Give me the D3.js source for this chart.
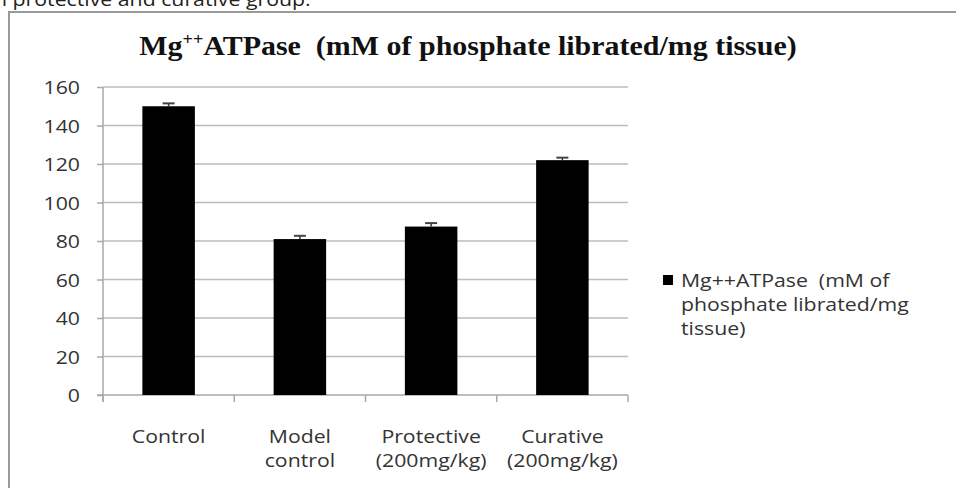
<!DOCTYPE html>
<html>
<head>
<meta charset="utf-8">
<script src="https://cdn.jsdelivr.net/npm/d3@7"></script>
<style>
  body { margin: 0; background: #fff; }
  svg { display: block; }
</style>
</head>
<body>
<div id="chart"></div>
<script>
// datos
const categorias = [['Control'], ['Model', 'control'], ['Protective', '(200mg/kg)'], ['Curative', '(200mg/kg)']]
const valores = [150, 81, 87.5, 122]
const errores = [1.5, 1.7, 1.8, 1.3]
const ticksY = [0, 20, 40, 60, 80, 100, 120, 140, 160]
const leyenda = ['Mg++ATPase\u00a0\u00a0(mM of', 'phosphate librated/mg', 'tissue)']

const width = 956
const height = 488
const sans = '"Open Sans", "Liberation Sans", sans-serif'
const estirar = 1.12 // el texto del original esta ensanchado
const tam = 19

let svg = d3.select('#chart')
    .append('svg')
    .attr('width', width)
    .attr('height', height)

// texto cortado del documento original
svg.append('text')
    .attr('transform', `translate(-6,6) scale(${estirar},1)`)
    .attr('font-family', sans)
    .attr('font-size', tam)
    .attr('fill', '#222')
    .text('n protective and curative group.')

// marco del grafico
svg.append('path')
    .attr('d', `M9 ${height} L9 12 L${width} 12`)
    .attr('fill', 'none')
    .attr('stroke', '#9a9a9a')
    .attr('stroke-width', 2)

const x = d3.scaleBand()
    .domain(d3.range(categorias.length))
    .range([103, 628])
    .paddingInner(0.6)
    .paddingOuter(0.3)

const xTicks = d3.scaleBand()
    .domain(d3.range(categorias.length))
    .range([103, 628])

const y = d3.scaleLinear()
    .domain([0, 160])
    .range([395, 87])

// lineas de cuadricula
svg.append('g')
    .selectAll('line')
    .data(ticksY.slice(1))
    .join('line')
    .attr('x1', 103)
    .attr('x2', 628)
    .attr('y1', (d) => y(d))
    .attr('y2', (d) => y(d))
    .attr('stroke', '#bdbdbd')
    .attr('stroke-width', 1.5)

// eje Y
let ejeY = svg.append('g')
    .attr('transform', 'translate(103,0)')
    .call(d3.axisLeft(y).tickValues(ticksY).tickSize(6).tickFormat(''))

ejeY.select('.domain').attr('stroke', '#a8a8a8').attr('stroke-width', 1.5)
    .attr('d', `M0 ${y(160)} L0 ${y(0) + 7}`)
ejeY.selectAll('.tick line').attr('stroke', '#a8a8a8').attr('stroke-width', 1.5)

svg.append('g')
    .selectAll('text')
    .data(ticksY)
    .join('text')
    .attr('transform', (d) => `translate(80,${y(d) + 7}) scale(${estirar},1)`)
    .attr('text-anchor', 'end')
    .attr('font-family', sans)
    .attr('font-size', tam)
    .attr('fill', '#333')
    .text((d) => d)

// eje X
let ejeX = svg.append('g')
    .attr('transform', `translate(0,${y(0)})`)

ejeX.append('line')
    .attr('x1', 97)
    .attr('x2', 628)
    .attr('stroke', '#a8a8a8')
    .attr('stroke-width', 1.5)

ejeX.selectAll('.tk')
    .data(d3.range(categorias.length + 1))
    .join('line')
    .attr('class', 'tk')
    .attr('x1', (d) => d < categorias.length ? xTicks(d) : xTicks.range()[1])
    .attr('x2', (d) => d < categorias.length ? xTicks(d) : xTicks.range()[1])
    .attr('y1', 0)
    .attr('y2', 7)
    .attr('stroke', '#a8a8a8')
    .attr('stroke-width', 1.5)

let etiquetas = ejeX.selectAll('text')
    .data(categorias)
    .join('text')
    .attr('transform', (d, i) => `translate(${xTicks(i) + xTicks.bandwidth() / 2},0) scale(${estirar},1)`)
    .attr('font-family', sans)
    .attr('font-size', tam)
    .attr('fill', '#333')
    .attr('text-anchor', 'middle')

etiquetas.selectAll('tspan')
    .data((d) => d)
    .join('tspan')
    .attr('x', 0)
    .attr('y', (d, j) => 48 + j * 24)
    .text((d) => d)

// barras
svg.append('g')
    .selectAll('rect')
    .data(valores)
    .join('rect')
    .attr('x', (d, i) => x(i))
    .attr('y', (d) => y(d))
    .attr('width', x.bandwidth())
    .attr('height', (d) => y(0) - y(d))
    .attr('fill', '#000')

// barras de error
let errorG = svg.append('g')
    .selectAll('g')
    .data(valores)
    .join('g')

errorG.append('line')
    .attr('x1', (d, i) => x(i) + x.bandwidth() / 2)
    .attr('x2', (d, i) => x(i) + x.bandwidth() / 2)
    .attr('y1', (d) => y(d))
    .attr('y2', (d, i) => y(d + errores[i]))
    .attr('stroke', '#333')
    .attr('stroke-width', 1.5)

errorG.append('line')
    .attr('x1', (d, i) => x(i) + x.bandwidth() / 2 - 6)
    .attr('x2', (d, i) => x(i) + x.bandwidth() / 2 + 6)
    .attr('y1', (d, i) => y(d + errores[i]))
    .attr('y2', (d, i) => y(d + errores[i]))
    .attr('stroke', '#444')
    .attr('stroke-width', 2)

// titulo
let titulo = svg.append('text')
    .attr('transform', 'translate(468,55) scale(1.07,1)')
    .attr('text-anchor', 'middle')
    .attr('font-family', '"Liberation Serif", "Times New Roman", serif')
    .attr('font-weight', 'bold')
    .attr('font-size', 28)
    .attr('fill', '#111')

titulo.append('tspan').text('Mg')
titulo.append('tspan').attr('dy', -10).attr('font-size', 17).text('++')
titulo.append('tspan').attr('dy', 10).text('ATPase\u00a0\u00a0(mM of phosphate librated/mg tissue)')

// leyenda
svg.append('rect')
    .attr('x', 663)
    .attr('y', 275)
    .attr('width', 10)
    .attr('height', 10)
    .attr('fill', '#000')

svg.append('text')
    .attr('transform', `translate(681,0) scale(${estirar},1)`)
    .attr('font-family', sans)
    .attr('font-size', tam)
    .attr('fill', '#333')
    .selectAll('tspan')
    .data(leyenda)
    .join('tspan')
    .attr('x', 0)
    .attr('y', (d, i) => 287 + i * 24)
    .text((d) => d)
</script>
</body>
</html>
